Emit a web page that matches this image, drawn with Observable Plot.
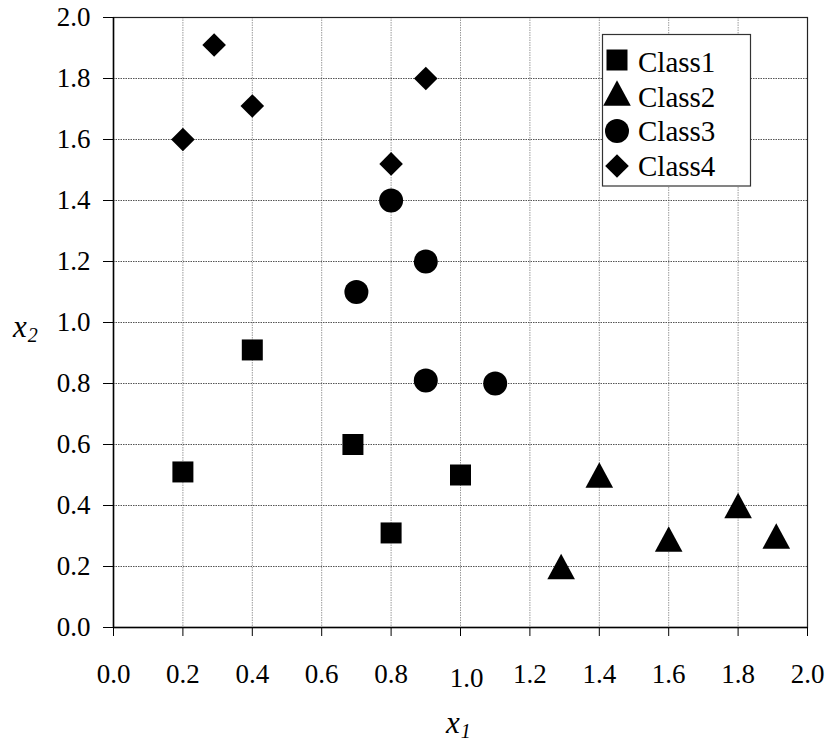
<!DOCTYPE html>
<html>
<head>
<meta charset="utf-8">
<script src="https://cdn.jsdelivr.net/npm/d3@7"></script>
<script src="https://cdn.jsdelivr.net/npm/@observablehq/plot@0.6"></script>
<style>
  html, body { margin: 0; padding: 0; background: white; }
  svg text, svg tspan { font-family: "Liberation Serif", "Times New Roman", serif; }
</style>
</head>
<body>
<div id="chart"></div>
<script>
// ---- data ----
const classes = ["Class1", "Class2", "Class3", "Class4"];
const class1X = [0.2, 0.4, 0.69, 0.8, 1.0];
const class1Y = [0.51, 0.91, 0.6, 0.31, 0.5];
const class2X = [1.29, 1.4, 1.6, 1.8, 1.91];
const class2Y = [0.2, 0.5, 0.29, 0.4, 0.3];
const class3X = [0.8, 0.9, 0.7, 0.9, 1.1];
const class3Y = [1.4, 1.2, 1.1, 0.81, 0.8];
const class4X = [0.29, 0.4, 0.2, 0.8, 0.9];
const class4Y = [1.91, 1.71, 1.6, 1.52, 1.8];
const xTicks = [0, 0.2, 0.4, 0.6, 0.8, 1.0, 1.2, 1.4, 1.6, 1.8, 2.0];
const yTicks = [0, 0.2, 0.4, 0.6, 0.8, 1.0, 1.2, 1.4, 1.6, 1.8, 2.0];
const xTitle = ["x", "1"];
const yTitle = ["x", "2"];

const FONT = "Liberation Serif";

// ---- symbols (bbox-centred, like the spreadsheet markers) ----
const R = 12;
const sq = {draw(c, size) { const k = Math.sqrt(size / Math.PI) / R, h = 10.5 * k;
  c.moveTo(-h, -h); c.lineTo(h, -h); c.lineTo(h, h); c.lineTo(-h, h); c.closePath(); }};
const tri = {draw(c, size) { const k = Math.sqrt(size / Math.PI) / R, w = 13.8 * k, h = 12.8 * k;
  c.moveTo(0, -h); c.lineTo(w, h); c.lineTo(-w, h); c.closePath(); }};
const circ = {draw(c, size) { const k = Math.sqrt(size / Math.PI) / R, r = 12 * k;
  c.moveTo(r, 0); c.arc(0, 0, r, 0, 2 * Math.PI); c.closePath(); }};
const dia = {draw(c, size) { const k = Math.sqrt(size / Math.PI) / R, h = 11.8 * k;
  c.moveTo(0, -h); c.lineTo(h, 0); c.lineTo(0, h); c.lineTo(-h, 0); c.closePath(); }};
const symbols = [sq, tri, circ, dia];

const series = [[class1X, class1Y], [class2X, class2Y], [class3X, class3Y], [class4X, class4Y]]
  .map(([xs, ys], i) => xs.map((x, j) => ({x, y: ys[j], cls: classes[i]})));

const fmt = d => d.toFixed(1);

const chart = Plot.plot({
  width: 827,
  height: 741,
  marginLeft: 113,
  marginRight: 20,
  marginTop: 17,
  marginBottom: 114,
  x: {domain: [0, 2]},
  y: {domain: [0, 2]},
  style: "font-family: 'Liberation Serif', serif; font-size: 27px; color: black; background: white;",
  marks: [
    Plot.gridX(xTicks.slice(1, -1), {stroke: "#9a9a9a", strokeOpacity: 1, strokeDasharray: "1.5,1"}),
    Plot.gridY(yTicks.slice(1, -1), {stroke: "#555", strokeOpacity: 1, strokeDasharray: "1.5,1"}),
    Plot.frame({stroke: "#222", strokeWidth: 1.2}),
    Plot.ruleX([0], {stroke: "black", strokeWidth: 1.5}),
    Plot.ruleY([0], {stroke: "black", strokeWidth: 1.5}),
    Plot.axisY(yTicks, {tickSize: 10, tickPadding: 13, tickFormat: fmt, label: null, fontSize: 27, fontFamily: FONT, stroke: "black"}),
    Plot.axisX(xTicks, {tickSize: 9, tickPadding: 27, tickFormat: d => (d === 1 ? "" : fmt(d)), label: null, fontSize: 27, fontFamily: FONT}),
    Plot.text(xTicks.filter(d => d === 1), {x: d => d, text: fmt, frameAnchor: "bottom", lineAnchor: "top", dy: 40, dx: 6, fontSize: 27, fontFamily: FONT, fill: "black"}),
    ...series.map((data, i) => Plot.dot(data, {x: "x", y: "y", symbol: symbols[i], r: R, fill: "black", stroke: "none"}))
  ]
});

const svg = d3.select(chart);

// legend
const lg = svg.append("g");
lg.append("rect").attr("x", 602.5).attr("y", 34.5).attr("width", 148).attr("height", 151.5)
  .attr("fill", "white").attr("stroke", "#333").attr("stroke-width", 1.2);
const legendBase = [72, 106.5, 141, 175.5];
const legendSym = [60, 93, 131, 166];
classes.forEach((c, i) => {
  lg.append("path")
    .attr("d", d3.symbol().type(symbols[i]).size(Math.PI * R * R)())
    .attr("transform", `translate(617,${legendSym[i]})`)
    .attr("fill", "black");
  lg.append("text").attr("x", 638).attr("y", legendBase[i]).attr("text-anchor", "start")
    .attr("font-family", FONT).attr("font-size", 29).attr("fill", "black").text(c);
});

// axis titles with subscripts
function title(x, y, parts) {
  const t = svg.append("text").attr("x", x).attr("y", y).attr("text-anchor", "start")
    .attr("font-family", FONT).attr("font-style", "italic").attr("fill", "black");
  t.append("tspan").attr("font-size", 31).text(parts[0]);
  t.append("tspan").attr("font-size", 20).attr("dy", 5).attr("dx", 1).text(parts[1]);
}
title(446, 733, xTitle);
title(13, 337, yTitle);

document.getElementById("chart").appendChild(chart);
</script>
</body>
</html>
